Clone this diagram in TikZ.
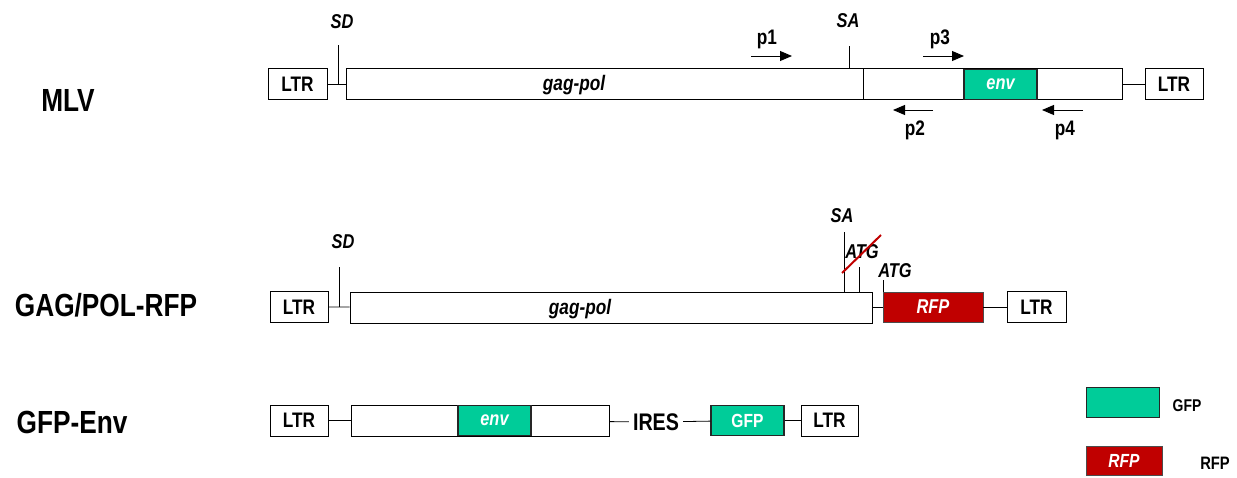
\documentclass[tikz,border=0pt]{standalone}
\usepackage{fontspec}
\setmainfont{Liberation Sans}[FakeStretch=0.82, UprightFont={* Bold}, ItalicFont={* Bold Italic}]
\usetikzlibrary{arrows.meta}
\definecolor{gfpgreen}{HTML}{00CC99}
\definecolor{rfpred}{HTML}{C00000}
\newcommand{\fsz}[1]{\fontsize{#1}{#1}\selectfont}

\begin{document}
\begin{tikzpicture}[x=1pt,y=-1pt,
    seg/.style={draw, line width=0.8pt, inner sep=0pt, minimum height=31pt, font=\fsz{21}},
    gfpbox/.style={seg, fill=gfpgreen, draw=black!85, line width=1.4pt, text=white, font=\fsz{20}\itshape},
    rfpbox/.style={seg, fill=rfpred, draw=black!70, text=white, font=\fsz{20}\itshape},
    link/.style={line width=0.8pt},
    site/.style={font=\fsz{20}\itshape},
    primer/.style={line width=0.9pt, -{Triangle[length=12pt,width=10pt]}},
    plabel/.style={font=\fsz{21}},
    rowname/.style={font=\fsz{32}}]
  \useasboundingbox (0,0) rectangle (1237,477);

  % MLV
  \node[rowname] (mlv) at (68,100) {MLV};
  \node[seg, minimum width=59pt] (ltrA) at (297.5,84) {LTR};
  \node[seg, minimum width=517pt] (gagA) at (604.5,84) {};
  \node[seg, minimum width=259pt] (restA) at (992.5,84) {};
  \node[gfpbox, minimum width=73pt, minimum height=30pt] (envA) at (1000.5,84.5) {env};
  \node[seg, minimum width=58pt] (ltrA2) at (1174,84) {LTR};
  \node[font=\fsz{21}\itshape] (gagtA) at (574,85) {gag-pol};
  \draw[link] (ltrA) -- (gagA);
  \draw[link] (restA) -- (ltrA2);
  \coordinate (sdA) at (338,84);
  \coordinate (saA) at (849,68.5);
  \draw[link] (sdA) -- ++(0,-39);
  \draw[link] (saA) -- ++(0,-23);
  \node[site] (sdtA) at (342,22) {SD};
  \node[site] (satA) at (848,21) {SA};
  \coordinate (p1s) at (751,56); \coordinate (p1e) at (792,56);
  \coordinate (p3s) at (923,56); \coordinate (p3e) at (964,56);
  \coordinate (p2s) at (933,110); \coordinate (p2e) at (893,110);
  \coordinate (p4s) at (1083,110); \coordinate (p4e) at (1042,110);
  \draw[primer] (p1s) -- (p1e);
  \draw[primer] (p3s) -- (p3e);
  \draw[primer] (p2s) -- (p2e);
  \draw[primer] (p4s) -- (p4e);
  \node[plabel] (p1) at (767,39) {p1};
  \node[plabel] (p3) at (940,39) {p3};
  \node[plabel] (p2) at (915,130) {p2};
  \node[plabel] (p4) at (1065,130) {p4};

  % GAG/POL-RFP
  \node[rowname] (gagpol) at (106,305) {GAG/POL-RFP};
  \node[seg, minimum width=58pt] (ltrB) at (299,307) {LTR};
  \node[seg, minimum width=522pt] (gagB) at (611,307.5) {};
  \node[font=\fsz{21}\itshape] (gagtB) at (580,309) {gag-pol};
  \node[rfpbox, minimum width=100pt, minimum height=30pt] (rfpB) at (933,307) {RFP};
  \node[seg, minimum width=59pt] (ltrB2) at (1036.5,307) {LTR};
  \draw[link] (ltrB) -- (gagB);
  \draw[link] (gagB.east |- rfpB.west) -- (rfpB);
  \draw[link] (rfpB) -- (ltrB2);
  \coordinate (sdB) at (339,307);
  \coordinate (saB) at (844,292);
  \coordinate (atgB) at (859,292);
  \coordinate (atgB2) at (883,292);
  \draw[link] (sdB) -- ++(0,-40);
  \draw[link] (saB) -- ++(0,-60);
  \draw[link] (atgB) -- ++(0,-25);
  \draw[link] (atgB2) -- ++(0,-12);
  \node[site] (sdtB) at (343,242) {SD};
  \node[site] (satB) at (842,216) {SA};
  \node[site] (atgx) at (862,252) {ATG};
  \draw[rfpred, line width=2pt] (842,273) -- (881,235);
  \node[site] (atgtB) at (895,271) {ATG};

  % GFP-Env
  \node[rowname] (gfpenv) at (72,422) {GFP-Env};
  \node[seg, minimum width=58pt] (ltrC) at (299,420.5) {LTR};
  \node[seg, minimum width=258pt] (envbC) at (480,420.5) {};
  \node[gfpbox, minimum width=73pt, minimum height=30pt] (envC) at (494.5,420.5) {env};
  \node[font=\fsz{24}, inner sep=4pt] (ires) at (656,422) {IRES};
  \node[gfpbox, minimum width=73pt, minimum height=30pt, font=\fsz{19}] (gfpC) at (747.5,420.5) {GFP};
  \node[seg, minimum width=57pt] (ltrC2) at (829.5,420.5) {LTR};
  \draw[link] (ltrC) -- (envbC);
  \draw[link] (envbC) -- (ires);
  \draw[link] (ires) -- (gfpC);
  \draw[link] (gfpC) -- (ltrC2);

  % legend
  \node[gfpbox, line width=0.8pt, minimum width=73pt, minimum height=30pt] (gfpL) at (1122.5,402) {};
  \node[font=\fsz{17}] (gfpLt) at (1187,406) {GFP};
  \node[rfpbox, minimum width=76pt, minimum height=29pt, font=\fsz{19}\itshape] (rfpL) at (1124,460.5) {RFP};
  \node[font=\fsz{18}] (rfpLt) at (1215,463) {RFP};
\end{tikzpicture}
\end{document}
